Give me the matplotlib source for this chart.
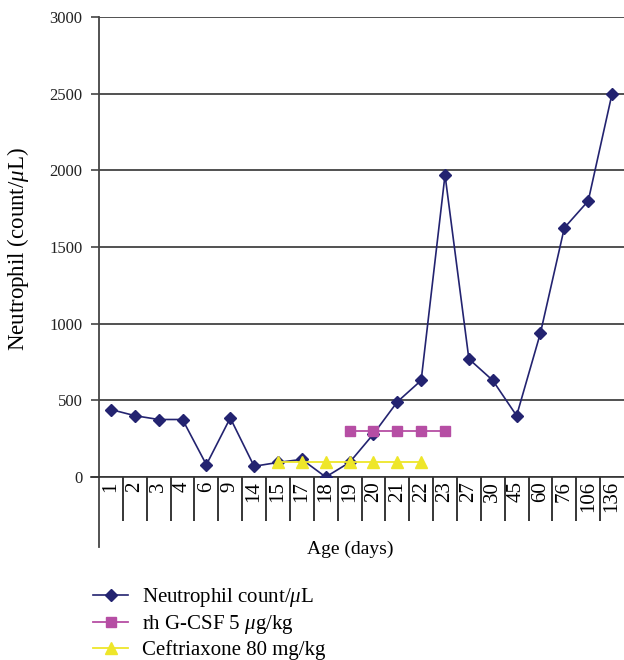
import matplotlib
matplotlib.use('Agg')
import matplotlib.pyplot as plt
import numpy as np

plt.rcParams['font.family'] = ['Liberation Serif', 'DejaVu Serif']
plt.rcParams['mathtext.fontset'] = 'custom'
plt.rcParams['mathtext.it'] = 'Liberation Serif:italic'
plt.rcParams['mathtext.rm'] = 'Liberation Serif'

days = ['1', '2', '3', '4', '6', '9', '14', '15', '17', '18', '19',
        '20', '21', '22', '23', '27', '30', '45', '60', '76', '106', '136']
neutrophil = [440, 400, 375, 375, 80, 385, 70, 95, 115, 0, 95,
              280, 490, 630, 1970, 770, 630, 400, 940, 1625, 1800, 2500]
gcsf_days = ['19', '20', '21', '22', '23']
gcsf = [300, 300, 300, 300, 300]
ceft_days = ['15', '17', '18', '19', '20', '21', '22']
ceft = [100, 100, 100, 100, 100, 100, 100]

navy = '#232370'
magenta = '#b64ea4'
yellow = '#eee62a'

W, H = 624, 660
fig = plt.figure(figsize=(W / 100, H / 100), dpi=100)
ax = fig.add_axes([99 / W, 1 - 477 / H, (W - 99) / W, 460 / H])

x = np.arange(len(days))
pos = {d: i for i, d in enumerate(days)}

# excel order: neutrophil first, treatments drawn on top
ax.plot(x, neutrophil, color=navy, marker='D', markersize=6.5, lw=1.2,
        label=r'Neutrophil count/$\mu$L', zorder=3)
ax.plot([pos[d] for d in gcsf_days], gcsf, color=magenta, marker='s',
        markersize=7, lw=1.3, label=r'rh G-CSF 5 $\mu$g/kg', zorder=4)
ax.plot([pos[d] for d in ceft_days], ceft, color=yellow, marker='^',
        markersize=9, lw=1.3, label='Ceftriaxone 80 mg/kg', zorder=5)

ax.set_ylim(0, 3000)
ax.set_xlim(-0.5, len(days) - 0.5)
ax.set_yticks(np.arange(0, 3001, 500))
ax.tick_params(axis='y', length=5.8, width=1.2, color='#444', pad=6,
               labelsize=12, labelcolor='#222')
ax.yaxis.grid(True, color='#333', lw=1.2)
ax.set_axisbelow(True)

# category table under the axis
ax.set_xticks(np.arange(0.5, len(days) - 0.5, 1.0))
ax.set_xticklabels([])
ax.tick_params(axis='x', which='major', length=31.5, width=1.1,
               color='black', direction='out')
ax.set_xticks(x, minor=True)
ax.set_xticklabels(days, minor=True, rotation=90, va='top', ha='center',
                   fontsize=15)
ax.tick_params(axis='x', which='minor', length=0, pad=3)

for s in ['top', 'right']:
    ax.spines[s].set_visible(False)
ax.spines['left'].set_color('#444')
ax.spines['left'].set_linewidth(1.3)
ax.spines['bottom'].set_color('#333')
ax.spines['bottom'].set_linewidth(1.2)
ax.plot([0, 0], [0, -70 / 460], transform=ax.transAxes, color='#444',
        lw=1.3, clip_on=False)
ax.plot([-8 / 525, 0], [0, 0], transform=ax.transAxes, color='#333',
        lw=1.2, clip_on=False)

fig.text(350 / W, 1 - 549 / H, 'Age (days)', ha='center', va='center',
         fontsize=14)
fig.text(18 / W, 1 - 249 / H, r'Neutrophil (count/$\mu$L)', ha='center',
         va='center', rotation=90, fontsize=16.5)

fig.legend(loc='upper left',
           bbox_to_anchor=(93 / W, 1 - 586 / H), frameon=False,
           fontsize=15, borderpad=0, borderaxespad=0, handlelength=1.7,
           handletextpad=0.65, labelspacing=0.2)

fig.savefig('out.png', dpi=100)
